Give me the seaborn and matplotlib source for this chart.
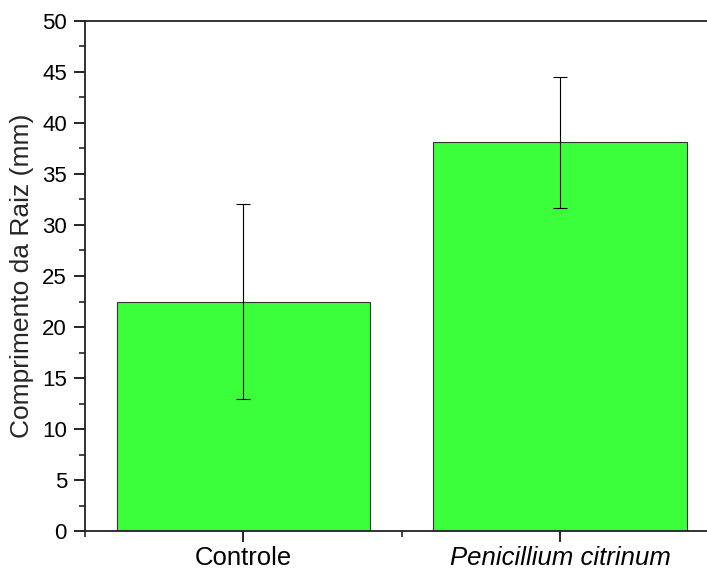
import matplotlib
matplotlib.use("Agg")
import matplotlib.pyplot as plt
import seaborn as sns
import pandas as pd
from matplotlib.ticker import MultipleLocator, FixedLocator

categories = ["Controle", "Penicillium citrinum"]
means = [22.5, 38.1]
errors = [9.6, 6.4]

sns.set_style("ticks")
plt.rcParams['font.family'] = ['Liberation Sans', 'DejaVu Sans']

df = pd.DataFrame({"cat": categories, "val": means})

fig = plt.figure(figsize=(7.07, 5.72), dpi=100)
ax = fig.add_axes([85/707, 1-531/572, (707-85)/707, (531-21)/572])

sns.barplot(data=df, x="cat", y="val", color="#3cff3c", saturation=1,
            edgecolor="#333333", linewidth=0.8, width=0.8, errorbar=None, ax=ax)
ax.errorbar(x=[0, 1], y=means, yerr=errors, fmt="none", ecolor="black",
            elinewidth=0.8, capsize=5, capthick=0.8, zorder=5)

ax.set_ylim(0, 50)
ax.set_xlim(-0.5, 1 + (707-560)/317)
ax.yaxis.set_major_locator(MultipleLocator(5))
ax.yaxis.set_minor_locator(MultipleLocator(2.5))
ax.xaxis.set_minor_locator(FixedLocator([-0.5, 0.5]))
ax.tick_params(axis="both", which="major", direction="out", length=8, width=1.2,
               labelsize=16, colors="black")
ax.tick_params(axis="both", which="minor", direction="out", length=4, width=1.2)
ax.tick_params(axis="y", pad=5)
ax.tick_params(axis="x", labelsize=18.5, pad=3)
ax.set_xticks([0, 1])
ax.set_xticklabels(categories)
ax.get_xticklabels()[1].set_style("italic")

ax.set_xlabel("")
ax.set_ylabel("Comprimento da Raiz (mm)", fontsize=19, labelpad=6)

for side in ["left", "bottom", "top"]:
    ax.spines[side].set_visible(True)
    ax.spines[side].set_linewidth(1.3)
    ax.spines[side].set_color("#222222")
ax.spines["right"].set_visible(False)

fig.savefig("out.png", dpi=100)
